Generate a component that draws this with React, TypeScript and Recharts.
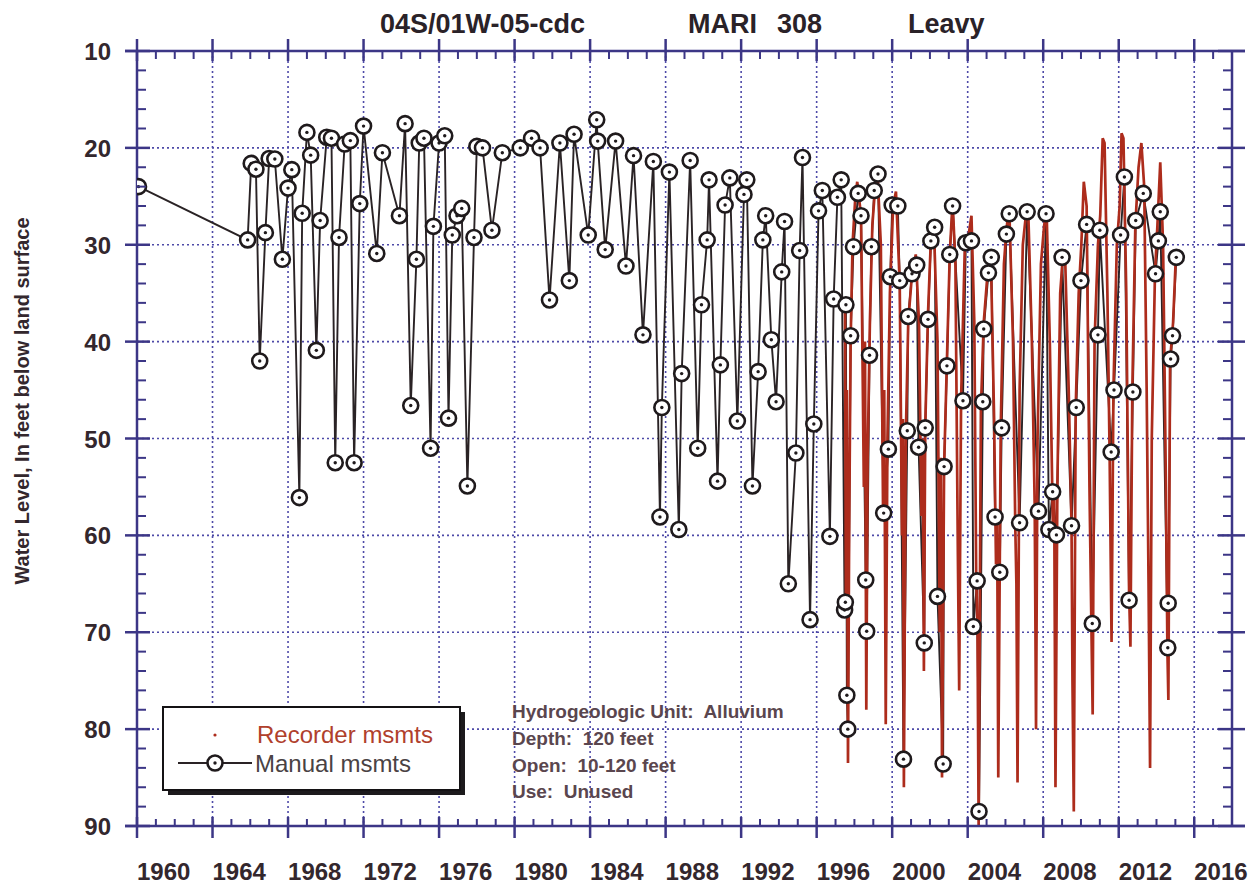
import React from 'react';
import { ComposedChart, Line, XAxis, YAxis, CartesianGrid } from 'recharts';

// manual measurements (decimal year, feet below land surface)
const MANUAL_YEARS = [
  1960.08, 1965.86, 1966.05, 1966.3, 1966.5, 1966.8, 1967.0, 1967.3, 1967.7, 1968.0,
  1968.2, 1968.6, 1968.75, 1969.0, 1969.2, 1969.5, 1969.7, 1970.05, 1970.3, 1970.5,
  1970.7, 1971.0, 1971.3, 1971.5, 1971.8, 1972.0, 1972.7, 1973.0, 1973.9, 1974.2,
  1974.5, 1974.8, 1974.95, 1975.2, 1975.55, 1975.7, 1976.0, 1976.3, 1976.5, 1976.7,
  1976.95, 1977.2, 1977.5, 1977.85, 1978.0, 1978.3, 1978.8, 1979.35, 1980.3, 1980.9,
  1981.35, 1981.85, 1982.4, 1982.9, 1983.15, 1983.9, 1984.35, 1984.4, 1984.8, 1985.35,
  1985.9, 1986.3, 1986.8, 1987.35, 1987.7, 1987.8, 1988.2, 1988.7, 1988.85, 1989.3,
  1989.7, 1989.9, 1990.2, 1990.3, 1990.75, 1990.9, 1991.15, 1991.4, 1991.8, 1992.15,
  1992.3, 1992.6, 1992.9, 1993.15, 1993.3, 1993.6, 1993.85, 1994.15, 1994.3, 1994.5,
  1994.9, 1995.1, 1995.25, 1995.65, 1995.85, 1996.1, 1996.3, 1996.7, 1996.9, 1997.1,
  1997.3, 1997.48, 1997.52, 1997.55, 1997.6, 1997.65, 1997.8, 1997.95, 1998.2, 1998.35,
  1998.6, 1998.65, 1998.8, 1998.9, 1999.05, 1999.25, 1999.55, 1999.8, 1999.9, 2000.0,
  2000.3, 2000.4, 2000.6, 2000.8, 2000.85, 2001.05, 2001.3, 2001.4, 2001.7, 2001.75,
  2001.9, 2002.05, 2002.25, 2002.4, 2002.7, 2002.75, 2002.9, 2003.05, 2003.2, 2003.75,
  2003.9, 2004.2, 2004.3, 2004.5, 2004.6, 2004.8, 2004.85, 2005.1, 2005.25, 2005.45,
  2005.7, 2005.8, 2006.05, 2006.2, 2006.75, 2007.15, 2007.75, 2008.15, 2008.3, 2008.5,
  2008.7, 2009.0, 2009.5, 2009.75, 2010.0, 2010.3, 2010.6, 2010.9, 2011.0, 2011.6,
  2011.75, 2012.1, 2012.3, 2012.55, 2012.75, 2012.9, 2013.3, 2013.95, 2014.1, 2014.2,
  2014.6, 2014.62, 2014.75, 2014.85, 2015.05,
];
const MANUAL_LEVELS = [
  24.0, 29.5, 21.6, 22.2, 42.0, 28.75, 21.1, 21.15, 31.5, 24.15,
  22.25, 56.1, 26.75, 18.4, 20.75, 40.9, 27.5, 18.9, 19.0, 52.5,
  29.25, 19.6, 19.25, 52.5, 25.75, 17.75, 30.9, 20.5, 27.0, 17.5,
  46.6, 31.5, 19.5, 19.0, 51.0, 28.1, 19.5, 18.75, 47.9, 29.0,
  27.0, 26.25, 54.9, 29.25, 19.85, 20.0, 28.5, 20.5, 20.0, 19.0,
  20.0, 35.7, 19.5, 33.7, 18.6, 29.0, 17.1, 19.3, 30.5, 19.3,
  32.2, 20.8, 39.3, 21.4, 58.1, 46.8, 22.5, 59.4, 43.3, 21.3,
  51.0, 36.2, 29.5, 23.3, 54.4, 42.4, 25.9, 23.1, 48.2, 24.8,
  23.3, 54.9, 43.1, 29.5, 27.0, 39.8, 46.2, 32.8, 27.6, 65.0,
  51.5, 30.6, 21.0, 68.7, 48.5, 26.5, 24.4, 60.1, 35.6, 25.1,
  23.3, 67.7, 66.9, 36.2, 76.5, 80.0, 39.4, 30.2, 24.7, 27.0,
  64.6, 69.9, 41.4, 30.2, 24.4, 22.7, 57.7, 51.1, 33.3, 25.9,
  26.0, 33.7, 83.1, 49.2, 37.4, 33.0, 32.1, 50.9, 71.1, 48.9,
  37.7, 29.6, 28.2, 66.3, 83.6, 52.9, 42.5, 31.0, 26.0, 46.1,
  29.8, 29.6, 69.4, 64.7, 88.5, 46.2, 38.7, 32.9, 31.3, 58.1,
  63.8, 48.9, 28.9, 26.8, 58.7, 26.6, 57.5, 26.8, 59.4, 55.5,
  59.95, 31.3, 59.0, 46.8, 33.7, 27.9, 69.1, 39.3, 28.5, 51.4,
  45.0, 29.0, 23.0, 66.7, 45.2, 27.5, 24.7, 33.0, 29.6, 26.6,
  71.6, 67.0, 41.8, 39.4, 31.3,
];

// continuous recorder
const RECORDER_YEARS = [
  1997.5, 1997.55, 1997.6, 1997.66, 1997.72, 1997.8, 1997.9,
  1998.05, 1998.15, 1998.35, 1998.5, 1998.56, 1998.63, 1998.7, 1998.82, 1998.95,
  1999.1, 1999.22, 1999.4, 1999.52, 1999.58, 1999.66, 1999.75, 1999.88,
  2000.05, 2000.2, 2000.4, 2000.52, 2000.57, 2000.62, 2000.72, 2000.85,
  2001.05, 2001.25, 2001.42, 2001.55, 2001.62, 2001.68, 2001.75, 2001.9,
  2002.05, 2002.2, 2002.4, 2002.52, 2002.58, 2002.64, 2002.75, 2002.9,
  2003.05, 2003.2, 2003.35, 2003.48, 2003.55, 2003.65, 2003.85,
  2004.05, 2004.2, 2004.35, 2004.45, 2004.52, 2004.58, 2004.7, 2004.85,
  2005.05, 2005.22, 2005.4, 2005.5, 2005.56, 2005.62, 2005.75, 2005.92,
  2006.05, 2006.2, 2006.4, 2006.52, 2006.58, 2006.64, 2006.75, 2006.92,
  2007.08, 2007.2, 2007.4, 2007.55, 2007.62, 2007.7, 2007.88,
  2008.05, 2008.18, 2008.35, 2008.52, 2008.58, 2008.65, 2008.75, 2008.9,
  2009.05, 2009.15, 2009.35, 2009.5, 2009.55, 2009.62, 2009.72, 2009.88,
  2010.02, 2010.15, 2010.3, 2010.45, 2010.55, 2010.62, 2010.72, 2010.9,
  2011.02, 2011.15, 2011.25, 2011.4, 2011.52, 2011.62, 2011.72, 2011.9,
  2012.05, 2012.15, 2012.25, 2012.4, 2012.55, 2012.62, 2012.72, 2012.88,
  2013.05, 2013.2, 2013.35, 2013.48, 2013.58, 2013.66, 2013.75, 2013.92,
  2014.05, 2014.2, 2014.35, 2014.5, 2014.58, 2014.63, 2014.72, 2014.88, 2015.02,
];
const RECORDER_LEVELS = [
  36, 66, 45, 83.5, 60, 40, 30,
  25, 23.5, 27, 55, 40, 78, 52, 38, 28,
  24, 22.5, 30, 58, 45, 79.5, 50, 35,
  26, 24.5, 34, 60, 48, 86, 50, 38,
  33, 31, 38, 58, 50, 74, 49, 37,
  29.5, 27.5, 40, 70, 52, 85, 53, 42,
  31, 25.5, 32, 62, 76, 46, 30,
  29, 27, 38, 64, 70, 90, 47, 38,
  33, 30.5, 48, 63, 58, 85, 49, 32,
  28.5, 26, 40, 59, 65, 85.5, 45, 30,
  27, 26, 40, 57, 80, 50, 32,
  28, 26.5, 40, 60, 55, 86, 55, 35,
  31, 30.5, 45, 59, 75, 88.5, 47, 35,
  30, 23.5, 26, 55, 69, 78.5, 40, 30,
  27, 19, 19.5, 35, 52, 71, 45, 30,
  26, 18.5, 19, 35, 66, 71.5, 45, 28,
  22, 19.5, 24, 45, 65, 84, 50, 33,
  28, 21.5, 30, 55, 72, 77, 42, 38, 31.5,
];

const MAJOR_YEARS = [1960, 1964, 1968, 1972, 1976, 1980, 1984, 1988, 1992, 1996, 2000, 2004, 2008, 2012, 2016];
const MAJOR_DEPTHS = [10, 20, 30, 40, 50, 60, 70, 80, 90];

const X_MIN = 1960;
const X_MAX = 2018;
const ALL_YEARS = Array.from({ length: X_MAX - X_MIN + 1 }, (_, i) => X_MIN + i);
const ALL_DEPTHS = Array.from({ length: 41 }, (_, i) => 10 + i * 2);

const manualData = MANUAL_YEARS.map((year, i) => ({ year, level: MANUAL_LEVELS[i] }));
const recorderData = RECORDER_YEARS.map((year, i) => ({ year, level: RECORDER_LEVELS[i] }));

const AXIS = '#3c3686';
const GRID = '#4e4aa8';
const RED = '#ad2c1c';
const INK = '#33272d';
const FONT = '"Liberation Sans", Arial, sans-serif';

const labelStyle = { fontFamily: FONT, fontWeight: 700, fontSize: 24, fill: INK };

// bottom: majors with labels
const BottomMajorTick = (props: any) => {
  const { x, y, payload } = props;
  const v = payload.value as number;
  return (
    <g>
      {v === X_MIN && <line x1={x - 12} x2={x} y1={y} y2={y} stroke={AXIS} strokeWidth={2.5} />}
      <line x1={x} x2={x} y1={y - 9} y2={y + 12} stroke={AXIS} strokeWidth={2.5} />
      <text x={x} y={y + 54} textAnchor="start" style={labelStyle}>
        {v}
      </text>
    </g>
  );
};

// bottom: minor ticks pointing into the plot (axis sits 1px lower)
const BottomMinorTick = (props: any) => {
  const { x, y, payload } = props;
  const v = payload.value as number;
  const y0 = y - 1;
  if (v === X_MAX) return <line x1={x} x2={x + 13} y1={y0} y2={y0} stroke={AXIS} strokeWidth={2.5} />;
  if (v % 4 === 0) return <g />;
  return <line x1={x} x2={x} y1={y0} y2={y0 - 7} stroke={AXIS} strokeWidth={2} />;
};

const TopTick = (props: any) => {
  const { x, y, payload } = props;
  const v = payload.value as number;
  if (v === X_MAX) return <line x1={x} x2={x + 13} y1={y} y2={y} stroke={AXIS} strokeWidth={2.5} />;
  if (v % 4 === 0) {
    return (
      <g>
        {v === X_MIN && <line x1={x - 12} x2={x} y1={y} y2={y} stroke={AXIS} strokeWidth={2.5} />}
        <line x1={x} x2={x} y1={y - 12} y2={y + 10} stroke={AXIS} strokeWidth={2.5} />
      </g>
    );
  }
  return <line x1={x} x2={x} y1={y} y2={y + 8} stroke={AXIS} strokeWidth={2} />;
};

// left: majors with labels
const LeftMajorTick = (props: any) => {
  const { x, y, payload } = props;
  return (
    <g>
      <line x1={x - 12} x2={x + 13} y1={y} y2={y} stroke={AXIS} strokeWidth={2.5} />
      <text x={x - 26} y={y + 9} textAnchor="end" style={labelStyle}>
        {payload.value}
      </text>
    </g>
  );
};

// left: minor ticks (axis sits 1px further left)
const LeftMinorTick = (props: any) => {
  const { x, y, payload } = props;
  if ((payload.value as number) % 10 === 0) return <g />;
  const x0 = x + 1;
  return <line x1={x0} x2={x0 + 9} y1={y} y2={y} stroke={AXIS} strokeWidth={2} />;
};

const RightTick = (props: any) => {
  const { x, y, payload } = props;
  if ((payload.value as number) % 10 === 0) {
    return <line x1={x - 14} x2={x + 13} y1={y} y2={y} stroke={AXIS} strokeWidth={2.5} />;
  }
  return <line x1={x - 9} x2={x} y1={y} y2={y} stroke={AXIS} strokeWidth={2} />;
};

const ManualDot = (props: any) => {
  const { cx, cy, index } = props;
  if (cx == null || cy == null) return <g key={index} />;
  return (
    <g key={index}>
      <circle cx={cx} cy={cy} r={7.5} fill="#ffffff" stroke="#1f1a1c" strokeWidth={2.6} />
      <circle cx={cx} cy={cy} r={1.7} fill="#1f1a1c" />
    </g>
  );
};

const xCommon = {
  type: 'number' as const,
  dataKey: 'year',
  domain: [X_MIN, X_MAX],
  allowDataOverflow: true,
  interval: 0 as const,
  height: 1,
  tickSize: 0,
  tickMargin: 0,
  tickLine: false,
};
const yCommon = {
  type: 'number' as const,
  dataKey: 'level',
  domain: [10, 90],
  reversed: true,
  allowDataOverflow: true,
  interval: 0 as const,
  width: 1,
  tickSize: 0,
  tickMargin: 0,
  tickLine: false,
};

export default function App() {
  return (
    <div style={{ position: 'absolute', left: 0, top: 0, width: 1258, height: 888, background: '#ffffff' }}>
      <ComposedChart width={1258} height={888} margin={{ top: 50, right: 25, bottom: 60, left: 135 }}>
        <XAxis {...xCommon} xAxisId="x" ticks={MAJOR_YEARS} axisLine={{ stroke: AXIS, strokeWidth: 2.5 }} tick={BottomMajorTick} />
        <XAxis {...xCommon} xAxisId="xm" ticks={ALL_YEARS} axisLine={false} tick={BottomMinorTick} />
        <XAxis {...xCommon} xAxisId="top" orientation="top" ticks={ALL_YEARS} axisLine={{ stroke: AXIS, strokeWidth: 2.5 }} tick={TopTick} />
        <YAxis {...yCommon} yAxisId="y" ticks={MAJOR_DEPTHS} axisLine={{ stroke: AXIS, strokeWidth: 2.5 }} tick={LeftMajorTick} />
        <YAxis {...yCommon} yAxisId="ym" ticks={ALL_DEPTHS} axisLine={false} tick={LeftMinorTick} />
        <YAxis {...yCommon} yAxisId="right" orientation="right" ticks={ALL_DEPTHS} axisLine={{ stroke: AXIS, strokeWidth: 2.5 }} tick={RightTick} />
        <CartesianGrid xAxisId="x" yAxisId="y" stroke={GRID} strokeWidth={1.6} strokeDasharray="2 3" />
        <Line
          xAxisId="x"
          yAxisId="y"
          data={manualData}
          dataKey="level"
          type="linear"
          stroke="#2a2325"
          strokeWidth={1.9}
          dot={false}
          isAnimationActive={false}
        />
        <Line
          xAxisId="xm"
          yAxisId="ym"
          data={recorderData}
          dataKey="level"
          type="linear"
          stroke={RED}
          strokeWidth={2.7}
          dot={false}
          isAnimationActive={false}
        />
        <Line
          xAxisId="top"
          yAxisId="right"
          data={manualData}
          dataKey="level"
          type="linear"
          stroke="none"
          dot={ManualDot}
          activeDot={false}
          isAnimationActive={false}
        />
      </ComposedChart>

      <svg
        width={1258}
        height={888}
        style={{ position: 'absolute', left: 0, top: 0, pointerEvents: 'none' }}
      >
        <g style={{ fontFamily: FONT, fontWeight: 700, fontSize: 27, fill: '#2a2228' }}>
          <text x={380} y={33}>04S/01W-05-cdc</text>
          <text x={688} y={33}>MARI</text>
          <text x={777} y={33}>308</text>
          <text x={908} y={33}>Leavy</text>
        </g>
        <text
          transform="translate(29,401) rotate(-90)"
          textAnchor="middle"
          style={{ fontFamily: FONT, fontWeight: 700, fontSize: 20, fill: INK }}
        >
          Water Level, In feet below land surface
        </text>

        <rect x={168} y={712} width={297} height={83} fill="#1c1a1c" />
        <rect x={163} y={707} width={297} height={83} fill="#ffffff" stroke="#141214" strokeWidth={2} />
        <circle cx={215} cy={735} r={1.6} fill={RED} />
        <text x={257} y={743} style={{ fontFamily: FONT, fontSize: 24, fill: '#b0402c' }}>
          Recorder msmts
        </text>
        <line x1={178} x2={252} y1={763} y2={763} stroke="#2a2325" strokeWidth={2} />
        <circle cx={215} cy={763} r={7.5} fill="#ffffff" stroke="#1f1a1c" strokeWidth={2.6} />
        <circle cx={215} cy={763} r={1.7} fill="#1f1a1c" />
        <text x={255} y={772} style={{ fontFamily: FONT, fontSize: 24, fill: '#4a4244' }}>
          Manual msmts
        </text>

        <g style={{ fontFamily: FONT, fontWeight: 700, fontSize: 19, fill: '#5a464e' }}>
          <text x={512} y={718} xmlSpace="preserve">Hydrogeologic Unit:  Alluvium</text>
          <text x={512} y={745} xmlSpace="preserve">Depth:  120 feet</text>
          <text x={512} y={772} xmlSpace="preserve">Open:  10-120 feet</text>
          <text x={512} y={798} xmlSpace="preserve">Use:  Unused</text>
        </g>
      </svg>
    </div>
  );
}
